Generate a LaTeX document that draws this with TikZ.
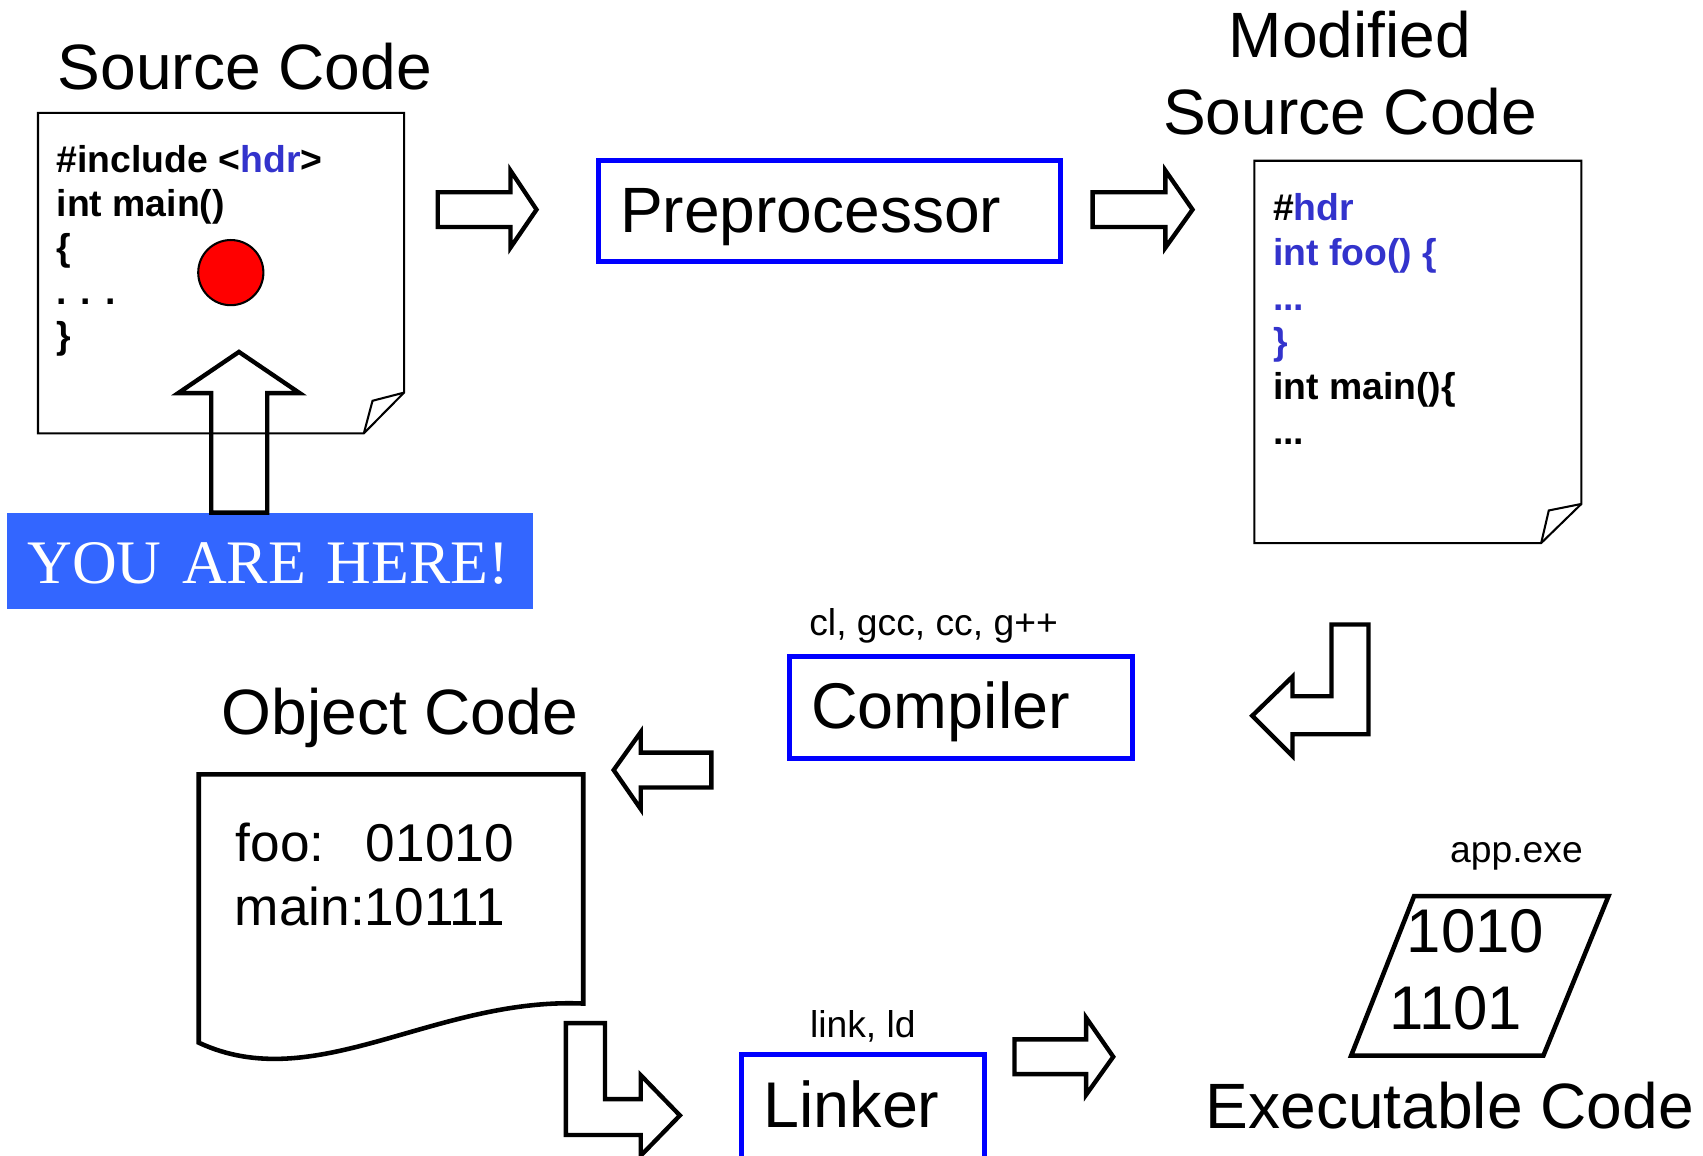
\documentclass[tikz,border=0pt]{standalone}
\usepackage{fontspec}
\setmainfont{Liberation Sans}
\newfontfamily\herefont{Liberation Serif}
\usetikzlibrary{positioning}
\definecolor{BoxBlue}{HTML}{0000FF}
\definecolor{CodeBlue}{HTML}{3333CC}
\definecolor{HereBlue}{HTML}{3366FF}

\begin{document}
\begin{tikzpicture}[x=1pt, y=-1pt,
    title/.style={inner sep=0pt, anchor=base west, font=\fontsize{59}{70}\selectfont},
    code/.style={inner sep=0pt, anchor=base west, font=\fontsize{34.4}{41}\selectfont\bfseries},
    tool/.style={inner sep=0pt, font=\fontsize{34.3}{40}\selectfont},
    bits/.style={inner sep=0pt, anchor=base west, font=\fontsize{49}{58}\selectfont},
    stage/.style={draw=BoxBlue, line width=4.6pt, anchor=north west, outer sep=0pt, align=left, inner xsep=20pt, inner ysep=0pt, minimum height=93pt, text height=42pt, text depth=3pt, font=\fontsize{59.5}{70}\selectfont},
    doc/.style={draw, line width=1.9pt, line join=miter},
    sheet/.style={draw, line width=4.2pt, line join=miter},
    blockarr/.style={draw, line width=4pt, line join=miter}
]
\useasboundingbox (0,0) rectangle (1568,1064);

% source file with the dog-eared corner
\node[title] (srctitle) at (53,82) {Source Code};
\draw[doc] (35,104) -- (372,104) -- (372,361.5) -- (335,399) -- (35,399) -- cycle;
\draw[doc] (335,399) -- (343,369) -- (372,361.5);
\node[code] (src1) at (52,158.5) {\#include <\textcolor{CodeBlue}{hdr}>};
\node[code] (src2) at (52,199) {int main()};
\node[code] (src3) at (52,239.5) {\{};
\node[code] (src4) at (52,280) {. . .};
\node[code] (src5) at (52,320.5) {\}};
\node[circle, draw, fill=red, line width=1.9pt, minimum size=60pt, inner sep=0pt] (dot) at (212.5,251) {};

\node[fill=HereBlue, anchor=north west, minimum width=485pt, minimum height=88pt, inner xsep=19pt, inner ysep=0pt, text width=447pt, align=left, text height=44pt, text depth=3pt, text=white, font=\herefont\fontsize{57}{64}\selectfont] (here) at (6,472.5) {YOU ARE HERE!};
\draw[blockarr] (194.5,472) -- (194.5,362) -- (164,362) -- (220,324) -- (276,362) -- (246,362) -- (246,472) -- cycle;

% preprocessing
\draw[blockarr] (403,177) -- (470,177) -- (470,157) -- (494,193) -- (470,228) -- (470,209) -- (403,209) -- cycle;
\node[stage, minimum width=425pt, text width=385pt, font=\fontsize{59}{70}\selectfont] (pre) at (551,148) {Preprocessor};
\draw[blockarr] (1006,177) -- (1073,177) -- (1073,157) -- (1098,193) -- (1073,228) -- (1073,209) -- (1006,209) -- cycle;

% modified file
\node[title, anchor=base] (modtitle1) at (1243,53) {Modified};
\node[title, anchor=base] (modtitle2) at (1243,123.5) {Source Code};
\draw[doc] (1155,148) -- (1456,148) -- (1456,464) -- (1419,500) -- (1155,500) -- cycle;
\draw[doc] (1419,500) -- (1426,470) -- (1456,464);
\node[code] (mod1) at (1172,203) {\#\textcolor{CodeBlue}{hdr}};
\node[code, text=CodeBlue] (mod2) at (1172,244) {int foo() \{};
\node[code, text=CodeBlue] (mod3) at (1172,285.5) {...};
\node[code, text=CodeBlue] (mod4) at (1172,326.5) {\}};
\node[code] (mod5) at (1172,368) {int main()\{};
\node[code] (mod6) at (1172,409.5) {...};

% compiling
\draw[blockarr] (1260,575) -- (1260,676) -- (1190,676) -- (1190,696) -- (1153,659) -- (1190,623) -- (1190,641) -- (1226,641) -- (1226,575) -- cycle;
\node[stage, minimum width=316pt, minimum height=94pt, text width=276pt] (comp) at (727,604) {Compiler};
\node[tool, above right=19pt and 18pt of comp.north west, anchor=base west] (cctools) {cl, gcc, cc, g++};
\draw[blockarr] (655,693) -- (590,693) -- (590,674) -- (565,709) -- (590,745) -- (590,725) -- (655,725) -- cycle;

% object file
\node[title] (objtitle) at (204,676) {Object Code};
\draw[sheet] (537,924) -- (537,713) -- (183,713) -- (183,960) .. controls (290,1010) and (400,918) .. cycle;
\node[bits] (foobits) at (217,793) {foo:\hspace{38pt}01010};
\node[bits] (mainbits) at (216,852) {main:10111};

% linking
\draw[blockarr] (521,942) -- (557,942) -- (557,1012) -- (590,1012) -- (590,990) -- (626,1027) -- (590,1064) -- (590,1045) -- (521,1045) -- cycle;
\node[stage, minimum width=223pt, minimum height=96pt, text width=183pt] (link) at (683,971) {Linker};
\node[tool, above=16pt of link, anchor=base] (ldtools) {link, ld};
\draw[blockarr] (934,957) -- (1000,957) -- (1000,937) -- (1025,973) -- (1000,1008) -- (1000,989) -- (934,989) -- cycle;

% executable
\node[tool, anchor=base west] (exename) at (1335,794) {app.exe};
\draw[sheet] (1302,825) -- (1481,825) -- (1421,972) -- (1244,972) -- cycle;
\node[bits, font=\fontsize{56.8}{66}\selectfont] (bits1) at (1295,877) {1010};
\node[bits, font=\fontsize{56.8}{66}\selectfont] (bits2) at (1279,948) {1101};
\node[title] (exetitle) at (1110,1039) {Executable Code};
\end{tikzpicture}
\end{document}
